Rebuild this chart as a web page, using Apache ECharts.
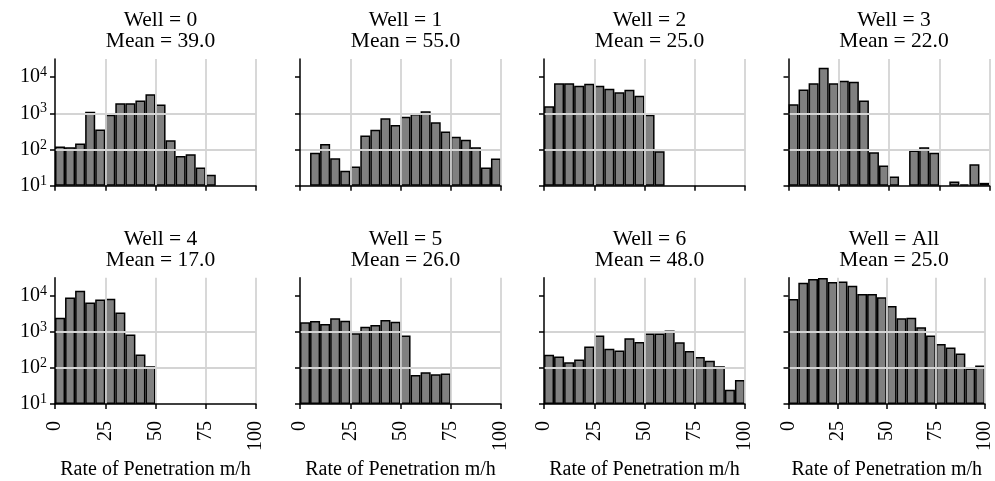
<!DOCTYPE html>
<html>
<head>
<meta charset="utf-8">
<script src="https://cdn.jsdelivr.net/npm/echarts@6/dist/echarts.min.js"></script>
<style>
  html, body { margin: 0; padding: 0; background: #fff; }
  #chart { width: 995px; height: 481px; }
</style>
</head>
<body>
<div id="chart"></div>
<script>
// histogram bins: 5 m/h wide, 0-100
const binStarts = [0, 5, 10, 15, 20, 25, 30, 35, 40, 45, 50, 55, 60, 65, 70, 75, 80, 85, 90, 95]
const wellNames = ["0", "1", "2", "3", "4", "5", "6", "All"]
const wellMeans = ["39.0", "55.0", "25.0", "22.0", "17.0", "26.0", "48.0", "25.0"]
const xTicks = [0, 25, 50, 75, 100]
const yTicks = [10, 100, 1000, 10000]

// counts per bin (null = empty bin)
const well0 = [121, 116, 147, 1110, 359, 918, 1900, 1900, 2240, 3370, 1740, 181, 66, 74, 32, 20, null, null, null, null]
const well1 = [null, 81, 141, 57, 26, 34, 245, 352, 726, 474, 808, 957, 1137, 563, 316, 225, 186, 116, 32, 56]
const well2 = [1563, 6810, 6810, 5750, 6530, 5750, 4740, 3830, 4440, 3030, 918, 90, null, null, null, null, null, null, null, null]
const well3 = [1780, 4540, 6810, 18150, 6810, 7910, 7420, 2250, 84, 36, 18, null, 94, 116, 81, null, 13, 11, 39, 12]
const well4 = [2470, 8970, 13700, 6530, 7900, 8250, 3460, 837, 235, 112, null, null, null, null, null, null, null, null, null, null]
const well5 = [1833, 1995, 1650, 2365, 2040, 912, 1393, 1548, 2130, 1907, 785, 64, 76, 67, 70, null, null, null, null, null]
const well6 = [230, 207, 144, 171, 391, 786, 337, 303, 663, 525, 892, 900, 1080, 514, 296, 202, 157, 112, 25, 46]
const wellAll = [8110, 22900, 28900, 31000, 23900, 25000, 18900, 11100, 11100, 9030, 5200, 2370, 2470, 1334, 786, 462, 366, 250, 96, 117]

const wellCounts = [well0, well1, well2, well3, well4, well5, well6, wellAll]

const FONT = "'Liberation Serif', 'DejaVu Serif', serif"
const colLeft = [55, 300, 544, 788.5]
const rowTop = [59, 277.7]
const plotW = 201
const plotH = 126.7
const titleTop = [5, 224]

const chart = echarts.init(document.getElementById("chart"), null, { renderer: "canvas" })

const grids = []
const xAxes = []
const yAxes = []
const series = []
const titles = []

wellNames.forEach((name, i) => {
    const row = Math.floor(i / 4)
    const col = i % 4
    const bottomRow = row === 1
    const firstCol = col === 0

    grids.push({
        left: colLeft[col],
        top: rowTop[row],
        width: plotW,
        height: plotH,
    })

    titles.push({
        text: "Well = " + name + "\nMean = " + wellMeans[i],
        left: colLeft[col] + plotW / 2,
        top: titleTop[row],
        textAlign: "center",
        textStyle: {
            fontFamily: FONT,
            fontSize: 21.5,
            fontWeight: "normal",
            color: "#000",
            lineHeight: 21,
        },
    })

    // hidden category axis carrying the bins
    xAxes.push({
        type: "category",
        gridIndex: i,
        position: "bottom",
        data: binStarts,
        show: false,
    })
    // visible value axis for ticks / grid
    xAxes.push({
        type: "value",
        gridIndex: i,
        position: "bottom",
        min: 0,
        max: 100,
        interval: 25,
        z: 5,
        axisLine: { lineStyle: { color: "#000", width: 1.5 } },
        axisTick: { show: true, length: 5, customValues: xTicks, lineStyle: { color: "#000", width: 1.5 } },
        axisLabel: {
            show: bottomRow,
            customValues: xTicks,
            rotate: 90,
            fontFamily: FONT,
            fontSize: 20,
            color: "#000",
            margin: 17,
        },
        splitLine: { show: true, showMinLine: false, lineStyle: { color: "#d4d4d4", width: 1.8 } },
        name: bottomRow ? "Rate of Penetration m/h" : "",
        nameLocation: "middle",
        nameGap: 56,
        nameTextStyle: { fontFamily: FONT, fontSize: 20, color: "#000" },
    })

    yAxes.push({
        type: "log",
        gridIndex: i,
        min: 10,
        max: 31623,
        startValue: 10,
        z: 5,
        axisLine: { show: true, lineStyle: { color: "#000", width: 1.5 } },
        axisTick: { show: true, length: 5, customValues: yTicks, lineStyle: { color: "#000", width: 1.5 } },
        axisLabel: {
            show: firstCol,
            customValues: yTicks,
            margin: 8,
            formatter: (v) => "10{s|" + Math.round(Math.log10(v)) + "}",
            rich: {
                s: { fontFamily: FONT, fontSize: 14, color: "#000", verticalAlign: "bottom", padding: [0, 0, 9, 0] },
            },
            fontFamily: FONT,
            fontSize: 20,
            color: "#000",
        },
        splitLine: {
            show: true,
            showMinLine: false,
            showMaxLine: false,
            lineStyle: { color: "#d4d4d4", width: 1.8 },
        },
    })

    series.push({
        type: "bar",
        xAxisIndex: i * 2,
        yAxisIndex: i,
        data: wellCounts[i],
        barCategoryGap: "0%",
        barWidth: "100%",
        itemStyle: { color: "#808080", borderColor: "#000", borderWidth: 1.5 },
        silent: true,
        animation: false,
    })
})

chart.setOption({
    backgroundColor: "#fff",
    animation: false,
    title: titles,
    grid: grids,
    xAxis: xAxes,
    yAxis: yAxes,
    series: series,
})
</script>
</body>
</html>
